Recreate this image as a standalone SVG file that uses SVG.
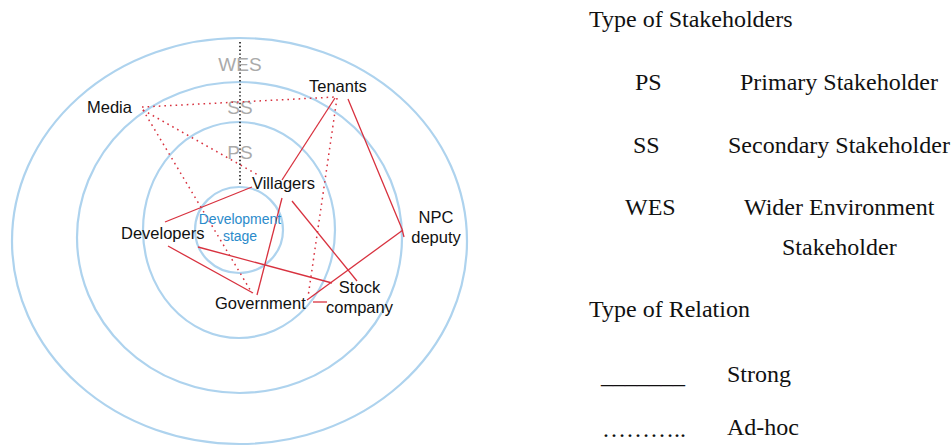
<svg xmlns="http://www.w3.org/2000/svg" width="951" height="446" viewBox="0 0 951 446">
<style>
.ring{fill:none;stroke:#aed3ee;stroke-width:2.2}
.lbl{font-family:"Liberation Sans",Arial,sans-serif;font-size:16.5px;fill:#111}
.lvl{font-family:"Liberation Sans",Arial,sans-serif;font-size:19px;fill:#aaaaaa;text-anchor:middle}
.core{font-family:"Liberation Sans",Arial,sans-serif;font-size:14px;fill:#2b8bcb;text-anchor:middle}
.strong{fill:none;stroke:#d8323f;stroke-width:1.3}
.adhoc{fill:none;stroke:#d8323f;stroke-width:1.5;stroke-dasharray:1.6 4}
.axis{fill:none;stroke:#111;stroke-width:1.6;stroke-dasharray:1.4 2.4}
.leg{font-family:"Liberation Serif","Times New Roman",serif;font-size:24px;fill:#111}
</style>
<rect width="951" height="446" fill="#fff"/>
<g id="rings">
<ellipse class="ring" cx="239.5" cy="241" rx="227.5" ry="203"/>
<ellipse class="ring" cx="239.5" cy="237.5" rx="162.5" ry="155.5"/>
<ellipse class="ring" cx="239" cy="230" rx="96" ry="108"/>
<ellipse class="ring" cx="239" cy="230" rx="44" ry="43"/>
</g>
<g id="levels">
<line class="axis" x1="240" y1="42" x2="240" y2="186"/>
<text class="lvl" x="240" y="71">WES</text>
<text class="lvl" x="240" y="114">SS</text>
<text class="lvl" x="240" y="159">PS</text>
</g>
<g id="connectors">
<line class="strong" x1="335" y1="98" x2="282" y2="180"/>
<polyline class="strong" points="348,99 402,229 404,237"/>
<line class="strong" x1="403" y1="230" x2="307" y2="300"/>
<line class="strong" x1="252" y1="187" x2="165" y2="222"/>
<line class="strong" x1="282" y1="198" x2="257" y2="295"/>
<line class="strong" x1="292" y1="201" x2="357" y2="281"/>
<line class="strong" x1="198" y1="247" x2="332" y2="283"/>
<line class="strong" x1="168" y1="246" x2="253" y2="293"/>
<line class="strong" x1="313" y1="302" x2="327" y2="302"/>
<line class="adhoc" x1="142" y1="107" x2="335" y2="97"/>
<line class="adhoc" x1="143" y1="110" x2="260" y2="176"/>
<line class="adhoc" x1="143" y1="110" x2="252" y2="293"/>
<line class="adhoc" x1="337" y1="98" x2="308" y2="297"/>
</g>
<g id="core"><text class="core" x="240" y="224">Development</text><text class="core" x="240" y="241">stage</text></g>
<g id="media"><text class="lbl" x="87" y="113">Media</text></g>
<g id="tenants"><text class="lbl" x="309" y="92">Tenants</text></g>
<g id="villagers"><text class="lbl" x="252" y="189">Villagers</text></g>
<g id="developers"><text class="lbl" x="121" y="239">Developers</text></g>
<g id="npc"><text class="lbl" x="436" y="223" text-anchor="middle">NPC</text><text class="lbl" x="436" y="243" text-anchor="middle">deputy</text></g>
<g id="government"><text class="lbl" x="215" y="309">Government</text></g>
<g id="stock"><text class="lbl" x="359.5" y="293" text-anchor="middle">Stock</text><text class="lbl" x="359.5" y="313" text-anchor="middle">company</text></g>
<g id="legend">
<text class="leg" x="589" y="27">Type of Stakeholders</text>
<text class="leg" x="635" y="90">PS</text>
<text class="leg" x="740" y="90">Primary Stakeholder</text>
<text class="leg" x="633" y="153">SS</text>
<text class="leg" x="728" y="153">Secondary Stakeholder</text>
<text class="leg" x="625" y="215">WES</text>
<text class="leg" x="744" y="215">Wider Environment</text>
<text class="leg" x="782" y="255">Stakeholder</text>
<text class="leg" x="589" y="317">Type of Relation</text>
<text class="leg" x="601" y="383">_______</text>
<text class="leg" x="727" y="382">Strong</text>
<text class="leg" x="602" y="437">………..</text>
<text class="leg" x="727" y="435">Ad-hoc</text>
</g>
</svg>
